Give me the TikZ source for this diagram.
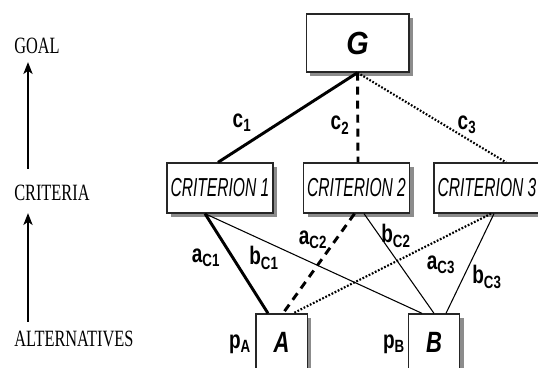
\documentclass[tikz,border=0pt]{standalone}
\usepackage{fontspec}
\setmainfont{Liberation Serif}
\newfontfamily\boxfont[FakeStretch=0.6]{Liberation Sans}
\newfontfamily\lblfont[FakeStretch=0.75]{Liberation Sans}
\newfontfamily\goalfont[FakeStretch=0.9]{Liberation Sans}
\newfontfamily\tierfont[FakeStretch=0.7]{Liberation Serif}
\usetikzlibrary{arrows.meta, calc}

\begin{document}
\begin{tikzpicture}[x=0.75pt, y=-0.75pt,
  box/.style={draw=black!85, line width=1pt, fill=white, inner sep=0pt},
  critbox/.style={box, minimum width=79.5pt, minimum height=37.5pt,
    font={\boxfont\itshape\fontsize{19.5}{21}\selectfont}},
  altbox/.style={box, minimum width=38.5pt, minimum height=42pt,
    font={\lblfont\bfseries\itshape\fontsize{22}{24}\selectfont}},
  boxshadow/.style={fill=black!45},
  lbl/.style={inner sep=0pt, font={\lblfont\bfseries\fontsize{19}{21}\selectfont}},
  tier/.style={anchor=west, inner sep=0pt, font={\tierfont\fontsize{17.5}{19}\selectfont}},
  heavyline/.style={line width=2.2pt},
  heavydash/.style={line width=2.2pt, dash pattern=on 6pt off 4.5pt},
  dotline/.style={line width=1.6pt, dash pattern=on 1.3pt off 1.3pt},
  thinline/.style={line width=0.8pt},
  upward/.style={line width=0.9pt, -{Stealth[length=9pt, width=7pt, inset=2.5pt]}}
]
  \useasboundingbox (0,0) rectangle (538,367);

  % levels of the hierarchy, left side
  \node[tier] (goal) at (14,46) {GOAL};
  \node[tier] (crit) at (14,193) {CRITERIA};
  \node[tier] (alts) at (14,339) {ALTERNATIVES};
  \draw[upward, shorten <=12pt, shorten >=6pt] ([xshift=10.5pt]crit.north west) -- ([xshift=10.5pt]goal.south west);
  \draw[upward, shorten <=7pt, shorten >=9pt] ([xshift=10.5pt]alts.north west) -- ([xshift=10.5pt]crit.south west);

  % shadows first: centre x / centre y / width / height
  \foreach \cx/\cy/\w/\h in {357.5/43/102.7/58, 220/188/106/50, 356.5/188/106/50,
      487/188/106/50, 281.5/342/51.3/56, 434/342/51.3/56}
    \fill[boxshadow] (\cx-\w/2+4,\cy-\h/2+4) rectangle (\cx+\w/2+4,\cy+\h/2+4);

  % boxes
  \node[box, minimum width=77pt, minimum height=43.5pt,
    font={\goalfont\bfseries\itshape\fontsize{24}{26}\selectfont}] (G) at (357.5,43) {G};
  \node[critbox] (C1) at (220,188) {CRITERION 1};
  \node[critbox] (C2) at (356.5,188) {CRITERION 2};
  \node[critbox] (C3) at (487,188) {CRITERION 3};
  \node[altbox] (A) at (281.5,342) {A};
  \node[altbox] (B) at (434,342) {B};

  % goal to criteria
  \draw[heavyline] (G.south) -- ($(C1.north)+(-2,0)$);
  \draw[heavydash] (G.south) -- ($(C2.north)+(1.5,0)$);
  \draw[dotline] (G.south) -- ($(C3.north)+(19,0)$);

  % criteria to alternatives
  \draw[heavyline] ($(C1.south)+(-15,0)$) -- ($(A.north)+(-13.5,0)$);
  \draw[thinline] ($(C1.south)+(-15,0)$) -- ($(B.north)+(-12,0)$);
  \draw[heavydash] ($(C2.south)+(-2,0)$) -- ($(A.north)+(1.5,0)$);
  \draw[thinline] ($(C2.south)+(7.5,0)$) -- (B.north);
  \draw[dotline] ($(C3.south)+(4,0)$) -- ($(A.north)+(11.5,0)$);
  \draw[thinline] ($(C3.south)+(7,0)$) -- ($(B.north)+(12,0)$);

  % weights
  \node[lbl] (wc1) at (242,123) {c\textsubscript{1}};
  \node[lbl] (wc2) at (340,125) {c\textsubscript{2}};
  \node[lbl] (wc3) at (467,125) {c\textsubscript{3}};
  \node[lbl] (wa1) at (206,258) {a\textsubscript{C1}};
  \node[lbl] (wb1) at (264,258) {b\textsubscript{C1}};
  \node[lbl] (wa2) at (313,240) {a\textsubscript{C2}};
  \node[lbl] (wb2) at (396,236) {b\textsubscript{C2}};
  \node[lbl] (wa3) at (441,265) {a\textsubscript{C3}};
  \node[lbl] (wb3) at (487,277) {b\textsubscript{C3}};
  \node[lbl] (pa) at (240,344) {p\textsubscript{A}};
  \node[lbl] (pb) at (394,344) {p\textsubscript{B}};
\end{tikzpicture}
\end{document}
